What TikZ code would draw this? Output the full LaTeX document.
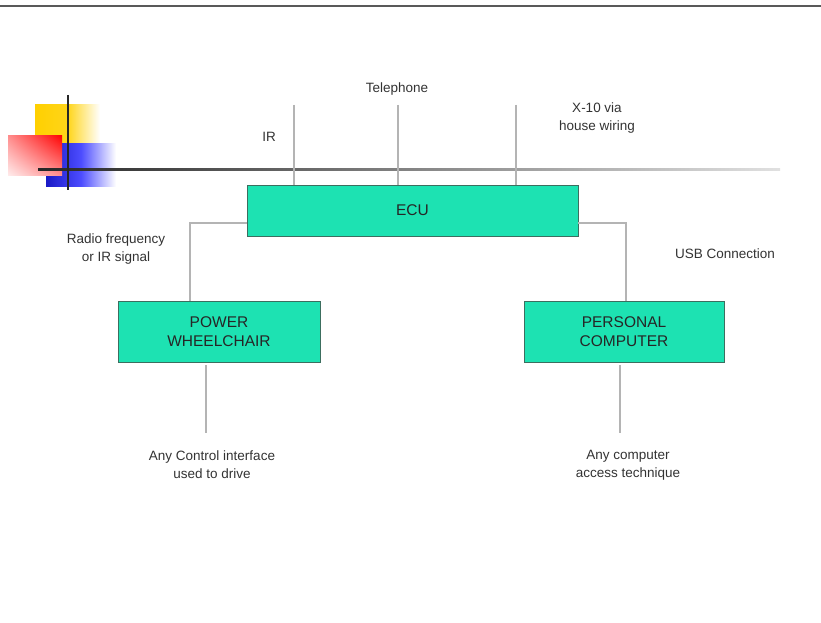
\documentclass[tikz,border=0pt]{standalone}
\usepackage{fontspec}
\setmainfont{Liberation Sans}
\usetikzlibrary{shadings}
\definecolor{ecugreen}{RGB}{29,226,178}
\definecolor{boxedge}{RGB}{60,110,95}
\definecolor{wire}{RGB}{180,180,180}
\definecolor{gold}{RGB}{255,208,0}
\begin{document}
\begin{tikzpicture}[x=1pt,y=-1pt,
  unit/.style={draw=boxedge,line width=0.8pt,fill=ecugreen,font=\fontsize{15.5}{19}\selectfont,align=center,text=black!85,inner sep=0pt},
  lbl/.style={font=\fontsize{13.5}{18}\selectfont,align=center,text=black!80},
  wire/.style={draw=wire,line width=2pt}]
\useasboundingbox(0,0)rectangle(821,623);
\fill[white](0,0)rectangle(821,623);
\draw[black!65,line width=2pt](0,6)--(821,6);
% corner ornament
\shade[left color=gold,right color=white,middle color=gold!90](35,105)rectangle(100,145);
\shade[left color=blue!75!black!90,right color=white,middle color=blue!70](46,143)rectangle(116,186);
\shade[upper right=red,upper left=red!45,lower right=red!45,lower left=red!8](8,135)rectangle(62,175);
\shade[left color=black!85,right color=black!12](38,168)rectangle(780,170);
\draw[black!85,line width=1.5pt](68,95)--(68,190);
% boxes
\node[unit,minimum width=331,minimum height=51](ecu)at(412.5,210.5){ECU};
\node[unit,minimum width=202,minimum height=61](pw)at(219,331.5){POWER\\WHEELCHAIR};
\node[unit,minimum width=200,minimum height=61](pc)at(624,331.5){PERSONAL\\COMPUTER};
% links above ECU
\coordinate(ir)at(294,105);\coordinate(tel)at(398,105);\coordinate(x10)at(516,105);
\draw[wire](ir)--(ir|-ecu.north);\draw[wire](tel)--(tel|-ecu.north);\draw[wire](x10)--(x10|-ecu.north);
\draw[wire]([yshift=-12.5]ecu.west)-|(190,0|-pw.north);
\draw[wire]([yshift=-12.5]ecu.east)-|(626,0|-pc.north);
\coordinate(pwin)at(206,433);\coordinate(pcin)at(620,433);
\draw[wire]([yshift=-3]pwin|-pw.south)--(pwin);
\draw[wire]([yshift=-3]pcin|-pc.south)--(pcin);
% labels
\node[lbl](teltxt)at(397,89){Telephone};
\node[lbl](irtxt)at(269,137){IR};
\node[lbl](x10txt)at(597,118){X-10 via\\house wiring};
\node[lbl](rftxt)at(116,249){Radio frequency\\or IR signal};
\node[lbl](usbtxt)at(725,254){USB Connection};
\node[lbl](pwtxt)at(212,465){Any Control interface\\used to drive};
\node[lbl](pctxt)at(628,465){Any computer\\access technique};
\end{tikzpicture}
\end{document}
